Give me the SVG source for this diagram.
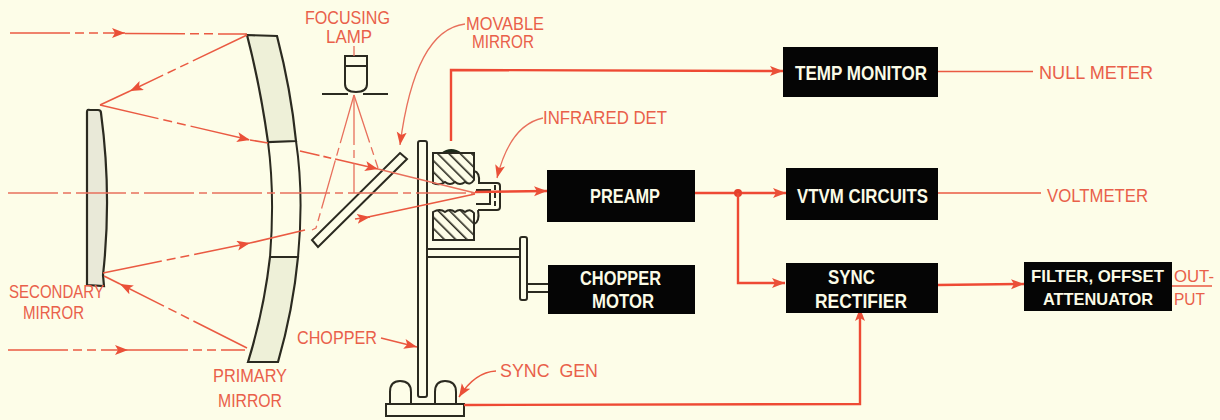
<svg xmlns="http://www.w3.org/2000/svg" width="1220" height="420" viewBox="0 0 1220 420">
<style>
.t{font-family:"Liberation Sans",Arial,sans-serif;font-size:18px;fill:#e9604a}
.s{font-size:16px}
.w{font-family:"Liberation Sans",Arial,sans-serif;font-size:20px;font-weight:bold;fill:#fbfbe6}
.f{font-size:17px}
.box{fill:#050505}
.k{fill:none;stroke:#2b2a20;stroke-width:2}
.g{fill:#eef0d8;stroke:#2b2a20;stroke-width:2.2}
.p{fill:#fdfde8;stroke:#2b2a20;stroke-width:2}
.r{fill:none;stroke:#ea5a42;stroke-width:1.6}
.rd{fill:none;stroke:#ea5a42;stroke-width:1.5;stroke-dasharray:60 5 9 5 9 5}
.b{fill:none;stroke:#ee4a34;stroke-width:2.4}
.thin{fill:none;stroke:#e8705c;stroke-width:1.3}
.thd{fill:none;stroke:#e8705c;stroke-width:1.3;stroke-dasharray:50 5 8 5}
</style>
<defs>
<marker id="a" markerUnits="userSpaceOnUse" markerWidth="16" markerHeight="12" refX="13" refY="5" orient="auto"><path d="M0 0L13 5L0 10L3 5Z" fill="#ea5038"/></marker>
<pattern id="h" width="8" height="8" patternUnits="userSpaceOnUse" patternTransform="rotate(-45)"><rect width="8" height="8" fill="#fdfde8"/><rect width="1.6" height="8" fill="#2b2a20"/></pattern>
</defs>
<rect width="1220" height="420" fill="#fdfde8"/>

<g id="primary-mirror">
<path class="g" d="M247 35L277 36Q291 90 296 141L268 142Q260 85 247 35Z"/>
<path class="k" d="M268 142Q275 195 270 257M296 141Q304 195 298 257"/>
<path class="g" d="M270 257L298 257Q293 310 278 362L248 362Q264 310 270 257Z"/>
</g>
<g id="secondary-mirror">
<path d="M87 112Q87 109 90 110L98 110Q101 110 101 113Q112 195 103 275L104 286L87 285Z" fill="#e9e9d8" stroke="#2b2a20" stroke-width="2.2"/>
</g>
<g id="focusing-lamp">
<path class="k" d="M345 56H367V84Q367 92 356 92Q345 92 345 84ZM345 66H367M322 94H348M363 94H388"/>
<path class="thin" d="M354 46V56"/>
</g>
<g id="movable-mirror">
<path class="p" d="M400 153L407 159L318 247L312 240Z"/>
</g>
<g id="chopper">
<path class="p" d="M418 143Q418 141 420 141H425Q427 141 427 143V395Q427 397 425 397H420Q418 397 418 395Z"/>
<path class="k" d="M427 249H520M427 257H520"/>
<rect class="p" x="520" y="237" width="7" height="63" rx="2"/>
<path class="k" d="M527 284H548M527 292H548"/>
</g>
<g id="infrared-detector">
<path d="M441 153Q451 145 462 153Z" fill="#1d2a1a"/>
<path d="M433 153H474V180Q470 186 465 182Q460 186 455 182Q450 186 445 182Q440 186 433 183Z" fill="url(#h)" stroke="#2b2a20" stroke-width="2"/>
<path d="M433 240H474V213Q470 208 465 212Q460 208 455 212Q450 208 445 212Q440 208 433 212Z" fill="url(#h)" stroke="#2b2a20" stroke-width="2"/>
<path class="k" stroke-width="3" d="M474 171Q480 172 479 183M474 224Q480 222 478 210"/>
<path class="k" stroke-width="2.4" d="M478 183H497Q500 183 500 186V207Q500 210 497 210H478"/>
<path class="k" stroke-dasharray="5 3" d="M495 185V208"/>
<path class="k" stroke-width="1.5" d="M476 190H490V204H476"/>
</g>
<g id="sync-gen">
<path class="p" d="M390 404V392Q390 381 400 381Q411 381 411 392V404M435 404V392Q435 381 445 381Q456 381 456 392V404"/>
<rect class="p" x="386" y="404" width="78" height="12"/>
</g>

<g id="connectors">
<path class="rd" d="M10 33H125" marker-end="url(#a)"/>
<path class="rd" d="M125 33.500L247 34"/>
<path class="rd" d="M247 35L130 91" marker-end="url(#a)"/>
<path class="r" d="M130 91L100 105"/>
<path class="rd" d="M100 105L250 140" marker-end="url(#a)"/>
<path class="r" d="M250 140L268 143"/>
<path class="r" d="M300 151L378 169" marker-end="url(#a)" stroke-dasharray="20 4 8 4 60"/>
<path class="thin" d="M378 169L475 193"/>
<path class="thd" d="M8 193H475"/>
<path class="b" d="M475 192L547 191" marker-end="url(#a)" stroke-width="1.8"/>
<path class="rd" d="M103 273L250 243" marker-end="url(#a)"/>
<path class="r" d="M250 243L305 230"/>
<path class="r" d="M355 219L370 217" marker-end="url(#a)"/>
<path class="r" d="M368 217L475 194"/>
<path class="rd" d="M247 348L120 284" marker-end="url(#a)"/>
<path class="r" d="M120 284L104 276"/>
<path class="rd" d="M8 350H128" marker-end="url(#a)"/>
<path class="rd" d="M128 350H245"/>
<path class="thd" d="M354 95L316 228L312 230"/>
<path class="thd" d="M354 95V193"/>
<path class="thd" d="M354 95L378 168"/>
<path class="thin" d="M465 24Q415 30 400 145" marker-end="url(#a)"/>
<path class="thin" d="M543 118Q510 125 497 178" marker-end="url(#a)"/>
<path class="r" d="M381 338L417 347" marker-end="url(#a)"/>
<path class="r" d="M496 371Q475 372 459 397" marker-end="url(#a)"/>
<path class="b" d="M451 141V70L783 71" marker-end="url(#a)"/>
<path class="b" d="M695 193H786" marker-end="url(#a)"/>
<circle cx="738" cy="193" r="4" fill="#e5402c"/>
<path class="b" d="M738 193V283H785" marker-end="url(#a)"/>
<path class="b" d="M464 405L860 404V308" marker-end="url(#a)"/>
<path class="b" d="M937 285L1024 284" marker-end="url(#a)"/>
<path class="r" d="M937 71.500H1033M932 193H1041M1172 286H1212"/>
</g>

<g id="temp-monitor"><rect class="box" x="783" y="47" width="155" height="50"/><text class="w" x="795" y="80" textLength="132" lengthAdjust="spacingAndGlyphs">TEMP MONITOR</text></g>
<g id="preamp"><rect class="box" x="547" y="170" width="148" height="52"/><text class="w" x="590" y="203" textLength="70" lengthAdjust="spacingAndGlyphs">PREAMP</text></g>
<g id="chopper-motor"><rect class="box" x="548" y="265" width="147" height="49"/><text class="w" x="580" y="285" textLength="81" lengthAdjust="spacingAndGlyphs">CHOPPER</text><text class="w" x="592" y="308" textLength="62" lengthAdjust="spacingAndGlyphs">MOTOR</text></g>
<g id="vtvm-circuits"><rect class="box" x="786" y="168" width="152" height="52"/><text class="w" x="797" y="203" textLength="131" lengthAdjust="spacingAndGlyphs">VTVM CIRCUITS</text></g>
<g id="sync-rectifier"><rect class="box" x="786" y="263" width="152" height="50"/><text class="w" x="828" y="284" textLength="47" lengthAdjust="spacingAndGlyphs">SYNC</text><text class="w" x="815" y="308" textLength="92" lengthAdjust="spacingAndGlyphs">RECTIFIER</text></g>
<g id="filter"><rect class="box" x="1024" y="262" width="148" height="49"/><text class="w f" x="1031" y="282" textLength="133" lengthAdjust="spacingAndGlyphs">FILTER, OFFSET</text><text class="w f" x="1043" y="305" textLength="110" lengthAdjust="spacingAndGlyphs">ATTENUATOR</text></g>

<g id="labels">
<text class="t" x="305" y="24" textLength="85" lengthAdjust="spacingAndGlyphs">FOCUSING</text>
<text class="t" x="326" y="43" textLength="46" lengthAdjust="spacingAndGlyphs">LAMP</text>
<text class="t" x="466" y="30" textLength="78" lengthAdjust="spacingAndGlyphs">MOVABLE</text>
<text class="t" x="472" y="48" textLength="62" lengthAdjust="spacingAndGlyphs">MIRROR</text>
<text class="t" x="543" y="124" textLength="124" lengthAdjust="spacingAndGlyphs">INFRARED DET</text>
<text class="t" x="1039" y="79" textLength="114" lengthAdjust="spacingAndGlyphs">NULL METER</text>
<text class="t" x="1047" y="202" textLength="101" lengthAdjust="spacingAndGlyphs">VOLTMETER</text>
<text class="t s" x="1174" y="282" textLength="40" lengthAdjust="spacingAndGlyphs">OUT-</text>
<text class="t s" x="1174" y="305" textLength="31" lengthAdjust="spacingAndGlyphs">PUT</text>
<text class="t" x="9" y="298" textLength="95" lengthAdjust="spacingAndGlyphs">SECONDARY</text>
<text class="t" x="23" y="319" textLength="61" lengthAdjust="spacingAndGlyphs">MIRROR</text>
<text class="t" x="213" y="382" textLength="74" lengthAdjust="spacingAndGlyphs">PRIMARY</text>
<text class="t" x="218" y="407" textLength="64" lengthAdjust="spacingAndGlyphs">MIRROR</text>
<text class="t" x="297" y="344" textLength="80" lengthAdjust="spacingAndGlyphs">CHOPPER</text>
<text class="t" x="500" y="377" textLength="98" lengthAdjust="spacingAndGlyphs" xml:space="preserve">SYNC  GEN</text>
</g>
</svg>
